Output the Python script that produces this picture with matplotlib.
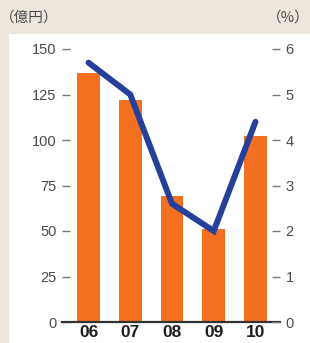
import matplotlib
matplotlib.use("Agg")
import matplotlib.pyplot as plt

plt.rcParams["font.family"] = ["Liberation Sans", "Noto Sans CJK JP", "DejaVu Sans"]

# ── データ ─────────────────────────────────────────
years = ["06", "07", "08", "09", "10"]
amount = [137, 122, 69, 51, 102]        # 億円（棒）
ratio = [5.7, 5.0, 2.6, 2.0, 4.4]       # %（折れ線）
left_ticks = [0, 25, 50, 75, 100, 125, 150]
right_ticks = [0, 1, 2, 3, 4, 5, 6]

BG = "#ede6dc"
ORANGE = "#f37021"
BLUE = "#24409a"
GRAY = "#4a4a4a"

W, H = 310, 343
fig = plt.figure(figsize=(W / 100, H / 100), dpi=100)
fig.patch.set_facecolor(BG)

# 白いパネル（背景用の軸）
bg = fig.add_axes([9 / W, 0, 1 - 9 / W, (H - 34) / H], zorder=-1)
bg.set_axis_off()
bg.add_patch(plt.Rectangle((0, 0), 1, 1, transform=bg.transAxes,
                           facecolor="white", edgecolor="none"))

ax = fig.add_axes([62 / W, (H - 322) / H, (280 - 62) / W, (322 - 49) / H])
ax.set_facecolor("none")
x = list(range(len(years)))
ax.bar(x, amount, width=0.55, color=ORANGE, zorder=2)
ax.set_xlim(-0.635, 4.587)
ax.set_ylim(0, 150)
ax.set_yticks(left_ticks)
ax.set_xticks(x)
ax.set_xticklabels(years, fontsize=12.5, fontweight="bold", color="#1e1e1e")

for s in ["top", "right", "left"]:
    ax.spines[s].set_visible(False)
ax.spines["bottom"].set_color("#333333")
ax.spines["bottom"].set_linewidth(1.6)
ax.spines["bottom"].set_zorder(5)
ax.tick_params(axis="x", length=0, pad=2)
ax.tick_params(axis="y", direction="in", length=6, width=1.0, color="#777777",
               labelsize=10.5, labelcolor=GRAY, pad=4)

ax2 = ax.twinx()
ax2.plot(x, ratio, color=BLUE, linewidth=4.3, solid_capstyle="round",
         solid_joinstyle="miter", zorder=4, clip_on=False)
ax2.set_ylim(0, 6)
ax2.set_yticks(right_ticks)
for s in ["top", "right", "left", "bottom"]:
    ax2.spines[s].set_visible(False)
ax2.tick_params(axis="y", direction="in", length=6, width=1.0, color="#777777",
                labelsize=10.5, labelcolor=GRAY, pad=4)

fig.text(0 / W, 1 - 18 / H, "（億円）", fontsize=10.5, color=GRAY,
         family=["Noto Sans CJK JP"], va="center", ha="left")
fig.text(1, 1 - 18 / H, "（%）", fontsize=10.5, color=GRAY,
         family=["Noto Sans CJK JP"], va="center", ha="right")

fig.savefig("out.png", dpi=100, facecolor=BG)
